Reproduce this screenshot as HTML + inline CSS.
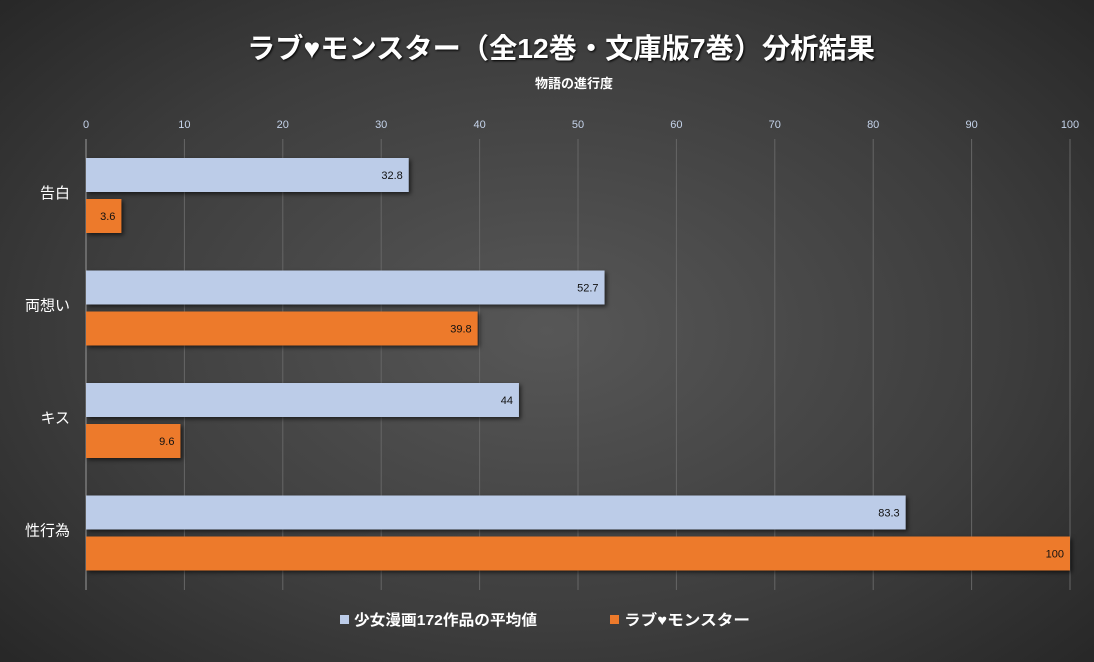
<!DOCTYPE html>
<html><head><meta charset="utf-8">
<style>
html,body{margin:0;padding:0}
body{width:1094px;height:662px;overflow:hidden;background:radial-gradient(ellipse 70% 75% at 50% 50%,#575757 0%,#3d3d3d 60%,#262626 100%);font-family:"Liberation Sans","Noto Sans CJK JP",sans-serif;position:relative}
svg{position:absolute;left:0;top:0}
</style></head><body>
<svg id="chart" width="1094" height="662">
<text x="561" y="58" text-anchor="middle" fill="#fff" font-size="28" font-weight="bold" textLength="628" lengthAdjust="spacingAndGlyphs" style="text-shadow:1px 1px 2px #000">ラブ♥モンスター（全12巻・文庫版7巻）分析結果</text>
<text x="574" y="88" text-anchor="middle" fill="#fff" font-size="13" font-weight="bold">物語の進行度</text>
<g id="grid"></g><g id="bars"></g>
<g>
<rect x="340" y="615" width="9" height="9" fill="#bccce8"/>
<text x="354" y="625" fill="#fff" font-size="15" font-weight="bold" textLength="183" lengthAdjust="spacingAndGlyphs">少女漫画172作品の平均値</text>
<rect x="610" y="615" width="9" height="9" fill="#ed7a2b"/>
<text x="624" y="625" fill="#fff" font-size="15" font-weight="bold" textLength="126" lengthAdjust="spacingAndGlyphs">ラブ♥モンスター</text>
</g>
</svg>
<script>
const categories=["告白","両想い","キス","性行為"];
const averageValues=[32.8,52.7,44,83.3];
const loveMonsterValues=[3.6,39.8,9.6,100];
const ticks=[0,10,20,30,40,50,60,70,80,90,100];
const NS="http://www.w3.org/2000/svg";
const x0=86,x1=1070,yTop=139,yBot=590;
const xs=v=>x0+(x1-x0)*v/100;
const band=112.5,bandTop=158-4;
function mk(t,a){const e=document.createElementNS(NS,t);for(const k in a)e.setAttribute(k,a[k]);return e;}
const grid=document.getElementById('grid'),bars=document.getElementById('bars');
ticks.forEach(t=>{
 const l=mk('line',{x1:xs(t),x2:xs(t),y1:yTop,y2:yBot,stroke:t===0?'#999':'#666','stroke-width':1});
 
 
 grid.appendChild(l);
 const tx=mk('text',{x:xs(t),y:128,'text-anchor':'middle',fill:'#c5d3ea','font-size':11});
 
 
 tx.textContent=t;grid.appendChild(tx);
});
categories.forEach((c,i)=>{
 const by=bandTop+i*band;
 const lab=mk('text',{x:70,y:by+44,'text-anchor':'end',fill:'#fff','font-size':15});
 
 
 lab.textContent=c;bars.appendChild(lab);
 [[averageValues[i],'#bccce8',by+4,'bar-average'],[loveMonsterValues[i],'#ed7a2b',by+45,'bar-lovemonster']].forEach(([v,col,y,n])=>{
  const r=mk('rect',{x:x0,y:y,width:xs(v)-x0,height:34,fill:col,style:'filter:drop-shadow(2px 2px 2px rgba(0,0,0,.6))'});
  
  
  bars.appendChild(r);
  const t=mk('text',{x:xs(v)-6,y:y+21,'text-anchor':'end',fill:'#111','font-size':11});
  
  
  t.textContent=v;bars.appendChild(t);
 });
});
</script>
</body></html>
